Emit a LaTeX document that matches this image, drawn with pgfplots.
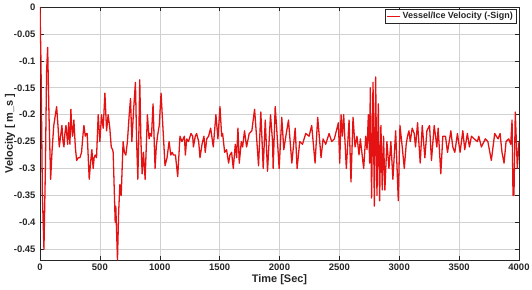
\documentclass[border=0pt]{standalone}
\usepackage{pgfplots}
\pgfplotsset{compat=1.18}
\usepackage{fontspec}
\setmainfont{Liberation Sans}
\definecolor{txt}{RGB}{38,38,38}
\definecolor{linered}{RGB}{228,18,18}
\begin{document}
\begin{tikzpicture}
\useasboundingbox (-40bp,-30bp) rectangle (492bp,260bp);
\begin{axis}[
  width=479bp, height=253bp, scale only axis,
  xmin=0, xmax=4000, ymin=-0.47, ymax=0,
  xtick={0,500,1000,1500,2000,2500,3000,3500,4000},
  ytick={-0.45,-0.4,-0.35,-0.3,-0.25,-0.2,-0.15,-0.1,-0.05,0},
  grid=major, major grid style={black!18, line width=0.5pt},
  axis line style={txt, line width=0.6pt},
  tick align=inside, tick style={txt, line width=0.5pt}, major tick length=4bp,
  ticklabel style={font=\fontsize{9.5}{11}\selectfont\bfseries, text=txt},
  /pgf/number format/assume math mode=true,
  /pgf/number format/1000 sep={},
  yticklabel style={/pgf/number format/fixed, /pgf/number format/precision=2, xshift=-1bp},
  scaled y ticks=false, scaled x ticks=false,
  xlabel={Time [Sec]}, ylabel={Velocity [ m\_s ]},
  xlabel style={font=\fontsize{11}{13}\selectfont\bfseries, text=txt, yshift=3bp},
  every axis y label/.style={at={([xshift=-30bp]axis description cs:0,0.5)}, rotate=90, anchor=center,
    font=\fontsize{11}{13}\selectfont\bfseries, text=txt},
  legend style={at={(1,1)}, anchor=north east, xshift=-3bp, yshift=-2bp,
    font=\fontsize{9}{10}\selectfont\bfseries, text=txt, draw=txt, line width=0.5pt,
    inner sep=1pt, row sep=0pt},
  legend image code/.code={\draw[#1, line width=1pt] (0bp,0bp) -- (13bp,0bp);},
]
\addplot[linered, line width=1.3pt, line join=round] coordinates {
(0,0) (8,-0.1) (20,-0.35) (33,-0.45) (45,-0.3) (55,-0.12) (64,-0.075) (75,-0.2)
(89,-0.32) (100,-0.27) (115,-0.22) (139,-0.185) (150,-0.22) (161,-0.26) (172,-0.24)
(183,-0.22) (192,-0.25) (200,-0.26) (208,-0.235) (217,-0.22) (231,-0.255) (239,-0.215)
(250,-0.255) (258,-0.19) (265,-0.225) (272,-0.24) (283,-0.21) (295,-0.26) (306,-0.285)
(320,-0.28) (333,-0.28) (347,-0.27) (360,-0.235) (367,-0.22) (378,-0.24) (386,-0.235)
(394,-0.235) (411,-0.32) (422,-0.29) (433,-0.265) (444,-0.3) (452,-0.28) (461,-0.275)
(472,-0.28) (486,-0.2) (500,-0.25) (514,-0.2) (528,-0.225) (542,-0.16) (556,-0.23)
(569,-0.2) (583,-0.225) (595,-0.26) (606,-0.265) (611,-0.27) (628,-0.4) (633,-0.37)
(647,-0.47) (657,-0.38) (667,-0.33) (678,-0.35) (694,-0.25) (705,-0.27) (717,-0.275)
(730,-0.25) (745,-0.2) (756,-0.17) (767,-0.25) (782,-0.19) (797,-0.14) (807,-0.25)
(817,-0.32) (826,-0.23) (833,-0.135) (843,-0.25) (853,-0.31) (864,-0.27) (878,-0.32)
(897,-0.2) (911,-0.245) (920,-0.235) (931,-0.24) (944,-0.18) (961,-0.3) (971,-0.26)
(981,-0.24) (996,-0.22) (1011,-0.16) (1028,-0.23) (1044,-0.295) (1061,-0.28) (1078,-0.25)
(1092,-0.275) (1105,-0.27) (1114,-0.275) (1131,-0.275) (1150,-0.315) (1169,-0.24)
(1185,-0.25) (1206,-0.24) (1214,-0.275) (1225,-0.245) (1240,-0.25) (1261,-0.235)
(1275,-0.24) (1281,-0.26) (1297,-0.24) (1308,-0.235) (1325,-0.25) (1336,-0.28)
(1353,-0.255) (1369,-0.24) (1380,-0.27) (1392,-0.245) (1408,-0.24) (1425,-0.225)
(1447,-0.26) (1469,-0.2) (1486,-0.245) (1503,-0.185) (1517,-0.24) (1525,-0.235)
(1542,-0.27) (1558,-0.265) (1575,-0.29) (1586,-0.275) (1600,-0.27) (1614,-0.3)
(1631,-0.255) (1642,-0.28) (1653,-0.225) (1664,-0.29) (1681,-0.25) (1692,-0.26)
(1708,-0.23) (1725,-0.26) (1747,-0.235) (1769,-0.23) (1792,-0.19) (1808,-0.24)
(1825,-0.295) (1844,-0.195) (1864,-0.3) (1881,-0.21) (1900,-0.305) (1925,-0.2)
(1942,-0.25) (1947,-0.3) (1964,-0.185) (1975,-0.22) (1997,-0.3) (2019,-0.205)
(2036,-0.265) (2053,-0.24) (2075,-0.21) (2103,-0.29) (2131,-0.225) (2147,-0.3)
(2169,-0.25) (2192,-0.255) (2219,-0.235) (2247,-0.24) (2269,-0.22) (2297,-0.29)
(2319,-0.205) (2347,-0.28) (2364,-0.245) (2386,-0.255) (2414,-0.235) (2436,-0.25)
(2458,-0.245) (2475,-0.23) (2492,-0.215) (2503,-0.29) (2514,-0.2) (2525,-0.24)
(2536,-0.2) (2558,-0.3) (2581,-0.21) (2597,-0.325) (2614,-0.205) (2631,-0.26)
(2647,-0.24) (2664,-0.275) (2675,-0.245) (2703,-0.3) (2720,-0.24) (2731,-0.265)
(2742,-0.2) (2753,-0.29) (2758,-0.15) (2769,-0.355) (2781,-0.14) (2792,-0.37)
(2803,-0.13) (2814,-0.35) (2825,-0.18) (2836,-0.36) (2847,-0.22) (2858,-0.34)
(2869,-0.24) (2880,-0.34) (2897,-0.25) (2914,-0.3) (2930,-0.25) (2947,-0.32)
(2970,-0.23) (2992,-0.36) (3006,-0.22) (3025,-0.26) (3042,-0.3) (3058,-0.255)
(3069,-0.24) (3081,-0.23) (3092,-0.25) (3108,-0.225) (3125,-0.235) (3136,-0.26)
(3153,-0.215) (3175,-0.29) (3192,-0.22) (3214,-0.28) (3231,-0.23) (3253,-0.22)
(3269,-0.285) (3292,-0.22) (3314,-0.26) (3325,-0.225) (3347,-0.31) (3364,-0.24)
(3386,-0.24) (3403,-0.27) (3431,-0.23) (3447,-0.26) (3464,-0.27) (3486,-0.235)
(3508,-0.27) (3531,-0.23) (3547,-0.265) (3569,-0.235) (3586,-0.26) (3603,-0.24)
(3625,-0.245) (3653,-0.25) (3664,-0.24) (3686,-0.26) (3719,-0.245) (3740,-0.25)
(3769,-0.285) (3797,-0.235) (3825,-0.245) (3842,-0.235) (3858,-0.27) (3875,-0.29)
(3892,-0.25) (3914,-0.245) (3931,-0.255) (3942,-0.21) (3950,-0.35) (3958,-0.35)
(3969,-0.195) (3986,-0.3) (4000,-0.25)
};
\addlegendentry{Vessel/Ice Velocity (-Sign)}
\end{axis}
\end{tikzpicture}
\end{document}
